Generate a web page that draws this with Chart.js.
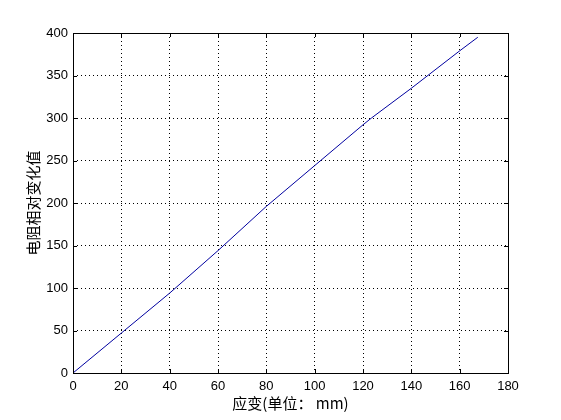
<!DOCTYPE html>
<html>
<head>
<meta charset="utf-8">
<script src="https://cdn.jsdelivr.net/npm/chart.js@4/dist/chart.umd.min.js"></script>
<style>
  html, body { margin: 0; padding: 0; background: #fff; }
  #wrap { width: 561px; height: 420px; }
</style>
</head>
<body>
<div id="wrap"><canvas id="grafico"></canvas></div>
<script>
// datos
const deformacion = [0, 20, 40, 60, 80, 100, 120, 123.5, 140, 160, 167.5];
const resistencia = [0, 47, 94, 144, 196, 244, 292, 300, 335, 379, 395];
const ticksX = [0, 20, 40, 60, 80, 100, 120, 140, 160, 180];
const ticksY = [0, 50, 100, 150, 200, 250, 300, 350, 400];

const fuente = { family: "'Liberation Sans', Arial, sans-serif", size: 13 };
const fuenteCJK = { family: "'Noto Sans CJK SC', sans-serif", size: 15 };

// marco negro y marcas hacia dentro (estilo MATLAB)
const marco = {
  id: "marco",
  afterDraw(chart) {
    const { ctx, chartArea: a, scales } = chart;
    ctx.save();
    ctx.strokeStyle = "#000";
    ctx.lineWidth = 1;
    ctx.strokeRect(Math.round(a.left) + 0.5, Math.round(a.top) + 0.5,
      Math.round(a.right - a.left), Math.round(a.bottom - a.top));
    ctx.beginPath();
    ticksX.forEach(v => {
      const px = Math.round(scales.x.getPixelForValue(v)) + 0.5;
      ctx.moveTo(px, a.bottom); ctx.lineTo(px, a.bottom - 4);
      ctx.moveTo(px, a.top); ctx.lineTo(px, a.top + 4);
    });
    ticksY.forEach(v => {
      const py = Math.round(scales.y.getPixelForValue(v)) + 0.5;
      ctx.moveTo(a.left, py); ctx.lineTo(a.left + 4, py);
      ctx.moveTo(a.right, py); ctx.lineTo(a.right - 4, py);
    });
    ctx.stroke();
    ctx.restore();
  }
};

new Chart(document.getElementById("grafico"), {
  type: "line",
  data: {
    datasets: [{
      data: deformacion.map((x, i) => ({ x: x, y: resistencia[i] })),
      borderColor: "#0000a0",
      borderWidth: 1,
      pointRadius: 0,
      tension: 0,
      fill: false
    }]
  },
  options: {
    responsive: true,
    maintainAspectRatio: false,
    animation: false,
    layout: { padding: { top: 33, right: 53, left: 0, bottom: 0 } },
    plugins: { legend: { display: false }, tooltip: { enabled: false } },
    scales: {
      x: {
        type: "linear",
        min: 0,
        max: 180,
        afterBuildTicks: s => { s.ticks = ticksX.map(v => ({ value: v })); },
        afterFit: s => { s.height = 47; },
        border: { display: false, dash: [1, 3] },
        grid: { color: "#000", drawTicks: false, lineWidth: 1 },
        ticks: { color: "#000", font: fuente, padding: 6, maxRotation: 0 },
        title: { display: true, text: "应变(单位： mm)", color: "#000", font: fuenteCJK, padding: { top: 0, bottom: 8 } }
      },
      y: {
        min: 0,
        max: 400,
        afterBuildTicks: s => { s.ticks = ticksY.map(v => ({ value: v })); },
        afterFit: s => { s.width = 73; },
        border: { display: false, dash: [1, 3] },
        grid: { color: "#000", drawTicks: false, lineWidth: 1 },
        ticks: { color: "#000", font: fuente, padding: 5 },
        title: { display: true, text: "电阻相对变化值", color: "#000", font: fuenteCJK, padding: { top: 24, bottom: 0 } }
      }
    }
  },
  plugins: [marco]
});
</script>
</body>
</html>
